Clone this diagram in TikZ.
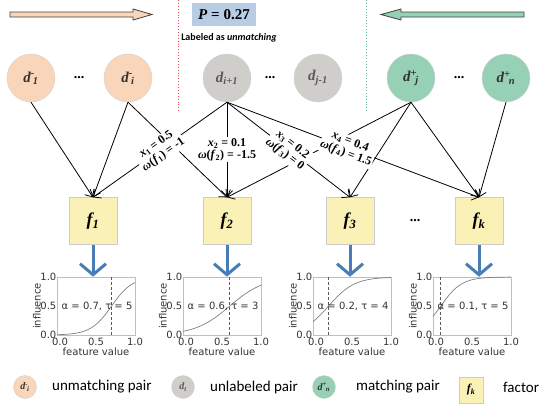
\documentclass[tikz,border=0pt]{standalone}
\usepackage{fontspec}
\setmainfont{Liberation Serif}
\newfontfamily\plotfont{DejaVu Sans}
\newfontfamily\legfont{Carlito}
\usetikzlibrary{arrows.meta}
\definecolor{peach}{RGB}{249,214,186}
\definecolor{grayc}{RGB}{207,206,203}
\definecolor{greenc}{RGB}{150,208,181}
\definecolor{factorc}{RGB}{250,241,182}
\definecolor{pblue}{RGB}{184,204,228}
\definecolor{arrowblue}{RGB}{72,126,182}
\definecolor{dotred}{RGB}{226,80,90}
\definecolor{dotteal}{RGB}{100,185,170}
\newcommand{\dlab}[3]{{\bfseries\itshape #1\textsuperscript{#2}\kern-0.12em\textsubscript{#3}}}
\newcommand{\dsub}[2]{{\bfseries\itshape #1\textsubscript{#2}}}

\begin{document}
\begin{tikzpicture}[x=1pt,y=-1pt,
    pair/.style={draw=black!18, circle, minimum size=48pt, inner sep=0pt, text=black!80, font=\fontsize{15}{17}\selectfont},
    negpair/.style={pair, fill=peach},
    unlpair/.style={pair, fill=grayc, text=black!65},
    pospair/.style={pair, fill=greenc},
    factor/.style={draw=black!20, fill=factorc, minimum width=48pt, minimum height=47pt, inner sep=0pt, font=\fontsize{18}{20}\selectfont\bfseries\itshape},
    link/.style={-{Straight Barb[length=6pt,width=11pt]}, line width=0.8pt},
    wlab/.style={fill=white, inner sep=1pt, align=center, font=\fontsize{12}{12.5}\selectfont\bfseries},
    ellip/.style={font=\fontsize{14}{14}\selectfont\bfseries},
    infl/.style={-{Straight Barb[length=11pt,width=26pt]}, line width=3pt, arrowblue},
    plotbox/.style={draw=black!25, line width=0.6pt, minimum width=78pt, minimum height=58pt, inner sep=0pt},
    curve/.style={black!50, line width=0.7pt},
    cut/.style={black!65, line width=0.8pt, dash pattern=on 3pt off 2pt},
    ticklab/.style={font=\plotfont\fontsize{10}{10}\selectfont, inner sep=0.5pt, text=black!80},
    legtext/.style={anchor=west, inner sep=0pt, font=\legfont\fontsize{15}{15}\selectfont},
    legpair/.style={minimum size=23pt, font=\fontsize{10}{10}\selectfont},
    bigarrow/.style={draw=black!75, line width=0.8pt}
  ]
    \useasboundingbox (0,0) rectangle (540,405);

    \draw[bigarrow, fill=peach] (10,12) -- (133,12) -- (133,9) -- (152,14.5) -- (133,20) -- (133,17) -- (10,17) -- cycle;
    \draw[bigarrow, fill=greenc] (524,12) -- (401,12) -- (401,9) -- (381,14.5) -- (401,20) -- (401,17) -- (524,17) -- cycle;
    \draw[dotred, dotted, line width=0.9pt] (178,0) -- (178,113);
    \draw[dotteal, dotted, line width=0.9pt] (366,0) -- (366,113);
    \node[fill=pblue, minimum width=64pt, minimum height=23pt, font=\fontsize{15}{15}\selectfont\bfseries] (prob) at (224,14.5) {\textit{P} = 0.27};
    \node[font=\legfont\fontsize{10}{10}\selectfont\bfseries] (lab) at (229,38) {Labeled as \textit{unmatching}};

    \node[negpair] (dm1) at (31,78) {\dlab{d}{-}{1}};
    \node[ellip] (e1) at (79,78) {...};
    \node[negpair] (dmi) at (128,78) {\dlab{d}{-}{i}};
    \node[unlpair] (di1) at (227,78) {\dsub{d}{i+1}};
    \node[ellip] (e2) at (270,78) {...};
    \node[unlpair] (dj1) at (318,78) {\dsub{d}{j-1}};
    \node[pospair] (dpj) at (411,78) {\dlab{d}{+}{j}};
    \node[ellip] (e3) at (459,78) {...};
    \node[pospair] (dpn) at (506,78) {\dlab{d}{+}{n}};

    \node[factor] (f1) at (93,221) {f\textsubscript{1}};
    \node[factor] (f2) at (227,221) {f\textsubscript{2}};
    \node[factor] (f3) at (350,221) {f\textsubscript{3}};
    \node[ellip] (e4) at (415,221) {...};
    \node[factor] (fk) at (479,221) {f\textsubscript{k}};

    \draw[link] (dm1.south) -- (f1.north);
    \draw[link] (dmi.south) -- (f1.north);
    \draw[link] (dmi.south) -- (f2.north);
    \draw[link] (di1.south) -- (f1.north);
    \draw[link] (di1.south) -- (f2.north);
    \draw[link] (di1.south) -- (f3.north);
    \draw[link] (di1.south) -- (fk.north);
    \draw[link] (dpj.south) -- (f2.north);
    \draw[link] (dpj.south) -- (f3.north);
    \draw[link] (dpj.south) -- (fk.north);
    \draw[link] (dpn.south) -- (fk.north);

    \path (di1.south) -- node[wlab, sloped] (w1) {\textit{x}\textsubscript{1} = 0.5\\\textit{ω}(\textit{f}\textsubscript{1}) = -1} (f1.north);
    \path (di1.south) -- node[wlab] (w2) {\textit{x}\textsubscript{2} = 0.1\\\textit{ω}(\textit{f}\textsubscript{2}) = -1.5} (f2.north);
    \path (di1.south) -- node[wlab, sloped] (w3) {\textit{x}\textsubscript{3} = 0.2\\\textit{ω}(\textit{f}\textsubscript{3}) = 0} (f3.north);
    \path (di1.south) -- node[wlab, sloped, pos=0.48] (w4) {\textit{x}\textsubscript{4} = 0.4\\\textit{ω}(\textit{f}\textsubscript{4}) = 1.5} (fk.north);

    \foreach \n/\L/\a/\t in {1/57/0.7/5, 2/183/0.6/3, 3/313/0.2/4, 4/433/0.1/5}{
        \node[plotbox] (c\n) at (\L+39,306) {};
        \draw[curve, domain=0:1, samples=50] plot ({\L+78*\x},{335-58/(1+exp(-1.5*\t*(\x-\a)))});
        \draw[cut] (\L+78*\a,277) -- (\L+78*\a,335);
        \node[ticklab, anchor=east] (c\n-y1) at (\L,277) {1.0};
        \node[ticklab, anchor=east] (c\n-y5) at (\L,306) {0.5};
        \node[ticklab, anchor=east] (c\n-y0) at (\L,335) {0.0};
        \node[ticklab, anchor=north] (c\n-x0) at (\L+3,337) {0.0};
        \node[ticklab, anchor=north] (c\n-x5) at (\L+39,337) {0.5};
        \node[ticklab, anchor=north] (c\n-x1) at (\L+78,337) {1.0};
        \node[ticklab] (c\n-xl) at (\L+39,352) {feature value};
        \node[ticklab, rotate=90] (c\n-yl) at (\L-20,306) {influence};
        \node[ticklab, anchor=west] (c\n-par) at (\L+4,306) {α = \a, τ = \t};
    }
    \foreach \f/\c in {f1/c1, f2/c2, f3/c3, fk/c4}
        \draw[infl] (\f.south) -- (\f.south |- \c.north);

    \node[negpair, legpair] (l1) at (25,387) {\dlab{d}{-}{i}};
    \node[legtext] (t1) at (52,387) {unmatching pair};
    \node[unlpair, legpair] (l2) at (183,387) {\dsub{d}{t}};
    \node[legtext] (t2) at (210,387) {unlabeled pair};
    \node[pospair, legpair] (l3) at (324,387) {\dlab{d}{+}{n}};
    \node[legtext] (t3) at (356,387) {matching pair};
    \node[factor, minimum width=24pt, minimum height=26pt, font=\fontsize{12}{12}\selectfont\bfseries\itshape] (l4) at (471,390) {f\textsubscript{k}};
    \node[legtext] (t4) at (503,387) {factor};
\end{tikzpicture}
\end{document}
